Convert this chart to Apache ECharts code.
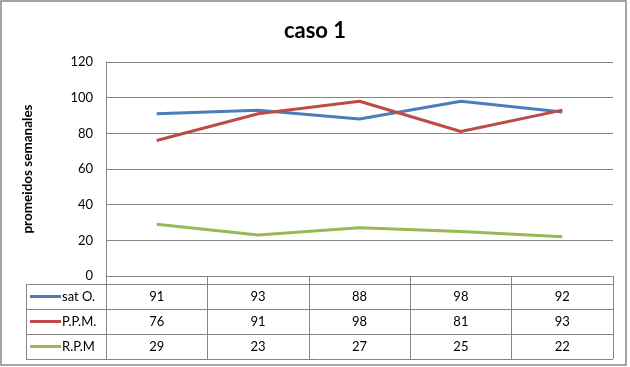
<!DOCTYPE html>
<html>
<head>
<meta charset="utf-8">
<script src="https://cdn.jsdelivr.net/npm/echarts@6/dist/echarts.min.js"></script>
<style>html,body{margin:0;padding:0;background:#fff}#c{width:630px;height:367px}</style>
</head>
<body>
<div id="c"></div>
<script>
var categories = ['1', '2', '3', '4', '5'];
var seriesNames = ['sat O.', 'P.P.M.', 'R.P.M'];
var satO = [91, 93, 88, 98, 92];
var ppm = [76, 91, 98, 81, 93];
var rpm = [29, 23, 27, 25, 22];
var yTicks = [0, 20, 40, 60, 80, 100, 120];
var colors = ['#4a7ebb', '#be4b48', '#98b954'];
var allValues = [satO, ppm, rpm];

var FONT = 'Lato';
var GRID_COLOR = '#868686';
var chart = echarts.init(document.getElementById('c'), null, {renderer: 'canvas'});

chart.setOption({
  animation: false,
  backgroundColor: '#fff',
  title: {
    text: 'caso 1', left: 'center', top: 15,
    textStyle: {fontFamily: FONT, fontWeight: 'bold', fontSize: 22, color: '#000'}
  },
  grid: {left: 106, right: 17, top: 62, bottom: 91},
  xAxis: {
    type: 'category', data: categories, boundaryGap: true,
    axisLine: {show: true, lineStyle: {color: GRID_COLOR, width: 1}},
    axisTick: {show: true, interval: 0, length: 83, inside: false, lineStyle: {color: GRID_COLOR, width: 1}},
    axisLabel: {show: false}
  },
  yAxis: {
    type: 'value', min: yTicks[0], max: yTicks[yTicks.length - 1], interval: 20,
    name: 'promeidos semanales', nameLocation: 'middle', nameRotate: 90, nameGap: 71,
    nameTextStyle: {fontFamily: FONT, fontWeight: 'bold', fontSize: 13.5, color: '#000'},
    axisLine: {show: true, lineStyle: {color: GRID_COLOR, width: 1}},
    axisTick: {show: false},
    axisLabel: {fontFamily: FONT, fontSize: 13, color: '#000', margin: 13},
    splitLine: {show: true, lineStyle: {color: GRID_COLOR, width: 1}}
  },
  series: seriesNames.map(function (n, i) {
    return {
      name: n, type: 'line', data: allValues[i], symbol: 'none',
      lineStyle: {color: colors[i], width: 3}, itemStyle: {color: colors[i]}
    };
  })
});

// Data table below the plot, positioned from the chart's own axes
var y0 = chart.convertToPixel({yAxisIndex: 0}, yTicks[0]);
var step = chart.convertToPixel({xAxisIndex: 0}, categories[1]) - chart.convertToPixel({xAxisIndex: 0}, categories[0]);
var xLeft = chart.convertToPixel({xAxisIndex: 0}, categories[0]) - step / 2;
var xRight = xLeft + step * categories.length;
var headerH = 8, rowH = 25, tableLeft = 26;
var g = [];
var lineStyle = {stroke: GRID_COLOR, lineWidth: 1};
var top0 = y0 + headerH;
for (var r = 0; r <= seriesNames.length; r++) {
  var yy = Math.round(top0 + r * rowH) + 0.5;
  g.push({type: 'line', shape: {x1: tableLeft, y1: yy, x2: xRight, y2: yy}, style: lineStyle, silent: true});
}
g.push({type: 'line', shape: {x1: tableLeft + 0.5, y1: Math.round(top0) + 0.5, x2: tableLeft + 0.5, y2: Math.round(top0 + seriesNames.length * rowH) + 0.5}, style: lineStyle, silent: true});
seriesNames.forEach(function (n, i) {
  var cy = top0 + i * rowH + rowH / 2;
  g.push({type: 'line', shape: {x1: 30, y1: cy, x2: 61, y2: cy}, style: {stroke: colors[i], lineWidth: 3}, silent: true});
  g.push({type: 'text', x: 62, y: cy, style: {text: n, fontFamily: FONT, fontSize: 13, fill: '#000', verticalAlign: 'middle', align: 'left'}, silent: true});
  allValues[i].forEach(function (v, j) {
    var cx = chart.convertToPixel({xAxisIndex: 0}, categories[j]);
    g.push({type: 'text', x: cx, y: cy, style: {text: String(v), fontFamily: FONT, fontSize: 13, fill: '#000', verticalAlign: 'middle', align: 'center'}, silent: true});
  });
});
// outer chart border
g.push({type: 'rect', shape: {x: 1, y: 1, width: 625, height: 364}, style: {fill: null, stroke: '#868686', lineWidth: 1.5}, silent: true, z: 100});
chart.setOption({graphic: g});
</script>
</body>
</html>
